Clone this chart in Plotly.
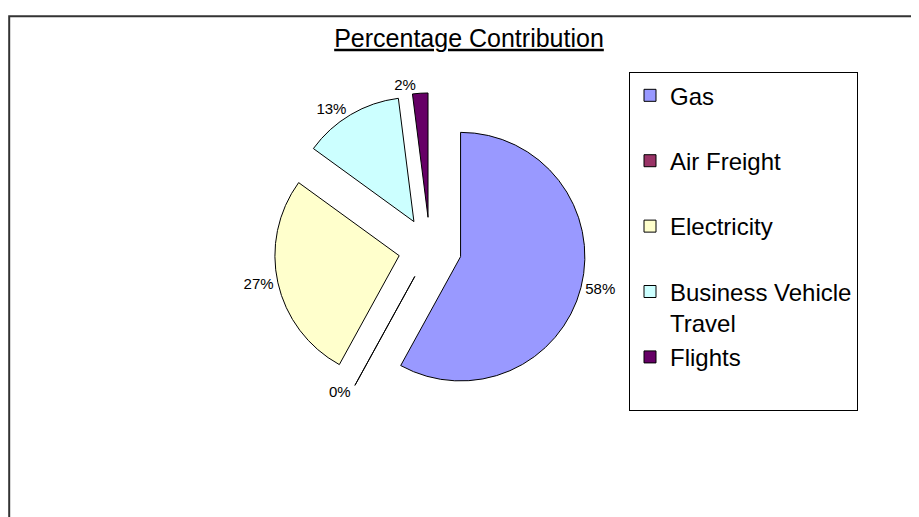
import plotly.graph_objects as go

# ---- data ----
categories = ["Gas", "Air Freight", "Electricity", "Business Vehicle<br>Travel", "Flights"]
values = [58, 0, 27, 13, 2]

# ---- styles ----
slice_colors = ["#9999FF", "#993366", "#FFFFCC", "#CCFFFF", "#660066"]
explode = 0.254
FONT = "Liberation Sans, Arial, sans-serif"
W, H = 919, 517
OFF = 8  # page body margin


def px(x):
    return (x - OFF) / W


def py(y):
    return 1 - (y - OFF) / H


# legend entries padded to two lines so each entry has the same height
legend_labels = [c if "<br>" in c else c + "<br> " for c in categories]

fig = go.Figure()
fig.add_trace(go.Pie(
    labels=legend_labels,
    values=values,
    sort=False,
    direction="clockwise",
    rotation=0,
    pull=[explode] * len(values),
    marker=dict(colors=slice_colors, line=dict(color="#000000", width=1)),
    textinfo="percent",
    textposition="outside",
    textfont=dict(family=FONT, size=15, color="#000000"),
    domain=dict(x=[px(272), px(588)], y=[py(403), py(87)]),
    hoverinfo="label+percent",
))

fig.update_layout(
    width=W, height=H,
    margin=dict(l=0, r=0, t=0, b=0),
    paper_bgcolor="white",
    plot_bgcolor="white",
    title=dict(
        text="<u>Percentage Contribution</u>",
        x=px(469), y=py(38), xanchor="center", yanchor="middle",
        font=dict(family=FONT, size=25, color="#000000"),
    ),
    legend=dict(
        x=px(629), y=py(66), xanchor="left", yanchor="top",
        bordercolor="#000000", borderwidth=1, bgcolor="white",
        font=dict(family=FONT, size=24, color="#000000"),
        valign="top", itemwidth=30,
    ),
    shapes=[dict(
        type="rect", xref="paper", yref="paper",
        x0=1.2 / W, x1=1.05, y0=-0.05, y1=1 - 1.2 / H,
        line=dict(color="#333333", width=2), fillcolor="rgba(0,0,0,0)",
    )],
)

fig.write_html("out.html")
